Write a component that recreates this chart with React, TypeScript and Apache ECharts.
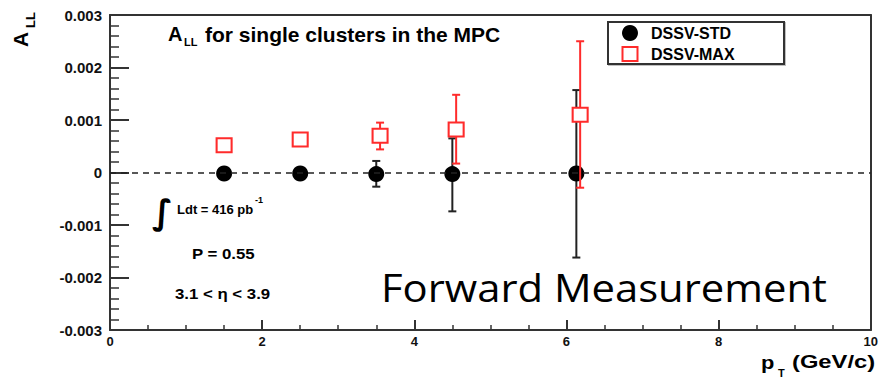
import React, { useEffect, useRef } from "react";
import * as echarts from "echarts";

// ---- data ----
const stdX = [1.5, 2.5, 3.5, 4.5, 6.13];
const stdY = [-0.00002, -0.00002, -0.00003, -0.00003, -0.00002];
const stdLow = [-0.00006, -0.00006, -0.00027, -0.00074, -0.00162];
const stdHigh = [0.00002, 0.00002, 0.00022, 0.00065, 0.00157];

const maxX = [1.5, 2.5, 3.55, 4.55, 6.18];
const maxY = [0.00052, 0.00063, 0.0007, 0.00082, 0.0011];
const maxLow = [0.00049, 0.0006, 0.00044, 0.00017, -0.00029];
const maxHigh = [0.00055, 0.00066, 0.00095, 0.00148, 0.0025];

const seriesNames = ["DSSV-STD", "DSSV-MAX"];

const FONT = "'Liberation Sans', Arial, Helvetica, sans-serif";
const RED = "#ff2b2b";

function errRender(color: string, minPx: number) {
  return (params: any, api: any) => {
    const x = api.value(0);
    const lo = api.value(1);
    const hi = api.value(2);
    const p1 = api.coord([x, lo]);
    const p2 = api.coord([x, hi]);
    if (Math.abs(p1[1] - p2[1]) < minPx) return null;
    const w = 4;
    const style = { stroke: color, lineWidth: 2 };
    return {
      type: "group",
      children: [
        { type: "line", shape: { x1: p1[0], y1: p1[1], x2: p2[0], y2: p2[1] }, style },
        { type: "line", shape: { x1: p1[0] - w, y1: p1[1], x2: p1[0] + w, y2: p1[1] }, style },
        { type: "line", shape: { x1: p2[0] - w, y1: p2[1], x2: p2[0] + w, y2: p2[1] }, style },
      ],
    };
  };
}

function txt(text: string, x: number, y: number, size: number, extra: any = {}) {
  const { style, ...rest } = extra;
  return {
    type: "text",
    x,
    y,
    z: 11,
    ...rest,
    style: {
      text,
      fontFamily: FONT,
      fontWeight: "bold",
      fontSize: size,
      fill: "#000",
      verticalAlign: "middle",
      ...(style || {}),
    },
  };
}

export default function App() {
  const ref = useRef<HTMLDivElement>(null);
  useEffect(() => {
    if (!ref.current) return;
    const chart = echarts.init(ref.current, undefined, { renderer: "svg" });
    const axisColor = "#333";
    const option: any = {
      animation: false,
      backgroundColor: "#fff",
      grid: { left: 110, right: 4, top: 15, bottom: 49 },
      xAxis: [
        {
          type: "value",
          min: 0,
          max: 10,
          interval: 2,
          axisLine: { onZero: false, lineStyle: { color: axisColor, width: 2 } },
          axisTick: { inside: true, length: 10, lineStyle: { color: axisColor, width: 2 } },
          minorTick: { show: true, splitNumber: 4, length: 5, lineStyle: { color: axisColor, width: 1.5 } },
          splitLine: { show: false },
          axisLabel: { fontFamily: FONT, fontWeight: "bold", fontSize: 13, color: "#111", margin: 5 },
        },
        {
          type: "value",
          position: "top",
          min: 0,
          max: 10,
          axisLine: { onZero: false, lineStyle: { color: axisColor, width: 2 } },
          axisTick: { show: false },
          axisLabel: { show: false },
          splitLine: { show: false },
        },
      ],
      yAxis: [
        {
          type: "value",
          min: -0.003,
          max: 0.003,
          interval: 0.001,
          axisLine: { onZero: false, lineStyle: { color: axisColor, width: 2 } },
          axisTick: { inside: true, length: 19, lineStyle: { color: axisColor, width: 2 } },
          minorTick: { show: true, splitNumber: 5, length: 9, lineStyle: { color: axisColor, width: 1.5 } },
          splitLine: { show: false },
          axisLabel: {
            fontFamily: FONT,
            fontWeight: "bold",
            fontSize: 15,
            color: "#111",
            margin: 8,
            formatter: (v: number) => (Math.abs(v) < 1e-9 ? "0" : v.toFixed(3)),
          },
        },
        {
          type: "value",
          position: "right",
          min: -0.003,
          max: 0.003,
          axisLine: { onZero: false, lineStyle: { color: axisColor, width: 2 } },
          axisTick: { show: false },
          axisLabel: { show: false },
          splitLine: { show: false },
        },
      ],
      series: [
        {
          type: "custom",
          name: seriesNames[0] + " err",
          renderItem: errRender("#222", 16),
          data: stdX.map((x, i) => [x, stdLow[i], stdHigh[i]]),
          encode: { x: 0, y: [1, 2] },
          z: 2,
        },
        {
          type: "scatter",
          name: seriesNames[0],
          data: stdX.map((x, i) => [x, stdY[i]]),
          symbol: "circle",
          symbolSize: 16,
          itemStyle: { color: "#000", opacity: 1 },
          z: 3,
          markLine: {
            silent: true,
            symbol: ["none", "none"],
            data: [{ yAxis: 0 }],
            label: { show: false },
            lineStyle: { type: [6, 5], color: "#222", width: 1.5 },
          },
        },
        {
          type: "custom",
          name: seriesNames[1] + " err",
          renderItem: errRender(RED, 16),
          data: maxX.map((x, i) => [x, maxLow[i], maxHigh[i]]),
          encode: { x: 0, y: [1, 2] },
          z: 4,
        },
        {
          type: "scatter",
          name: seriesNames[1],
          data: maxX.map((x, i) => [x, maxY[i]]),
          symbol: "rect",
          symbolSize: [15, 14],
          itemStyle: { color: "#fff", borderColor: RED, borderWidth: 2, opacity: 1 },
          z: 5,
        },
      ],
      graphic: [
        // title
        txt("A", 168, 34, 20),
        txt("LL", 184, 42, 11),
        txt("for single clusters in the MPC", 205, 34, 21),
        // y axis name (rotated)
        txt("A", 20, 47, 21, { rotation: Math.PI / 2 }),
        txt("LL", 30, 28, 13, { rotation: Math.PI / 2 }),
        // x axis name
        txt("p", 761, 362, 19, { scaleX: 1.15 }),
        txt("T", 778, 373, 11),
        txt("(GeV/c)", 792, 362, 19, { scaleX: 1.25 }),
        // legend box
        {
          type: "rect",
          shape: { x: 608, y: 22, width: 176, height: 42 },
          style: { fill: "#fff", stroke: "#333", lineWidth: 2, shadowColor: "rgba(0,0,0,0.25)", shadowOffsetX: 1, shadowOffsetY: 1, shadowBlur: 1 },
          z: 10,
        },
        { type: "circle", shape: { cx: 630, cy: 33, r: 8 }, style: { fill: "#000" }, z: 11 },
        { type: "rect", shape: { x: 622.5, y: 47, width: 15, height: 14 }, style: { fill: "#fff", stroke: RED, lineWidth: 2 }, z: 11 },
        txt(seriesNames[0], 651, 33, 16),
        txt(seriesNames[1], 651, 54, 16),
        // annotations
        {
          type: "text", x: 152, y: 212, z: 11,
          style: { text: "\u222B", fontFamily: "'DejaVu Sans', sans-serif", fontSize: 34, fontWeight: "bold", fill: "#000", verticalAlign: "middle", fontStyle: "italic" },
        },
        txt("Ldt = 416 pb", 177, 209, 13),
        txt("-1", 255, 200, 9),
        txt("P = 0.55", 192, 254, 15, { scaleX: 1.12 }),
        txt("3.1 < \u03B7 < 3.9", 175, 294, 15, { scaleX: 1.12 }),
        {
          type: "text", x: 381, y: 287, z: 12, scaleX: 1.1,
          style: { text: "Forward Measurement", fontFamily: "'Open Sans', Lato, sans-serif", fontSize: 38, fill: "#000", verticalAlign: "middle" },
        },
      ],
    };
    chart.setOption(option);
    return () => chart.dispose();
  }, []);
  return <div ref={ref} style={{ width: 881, height: 379, position: "absolute", left: 0, top: 0 }} />;
}
